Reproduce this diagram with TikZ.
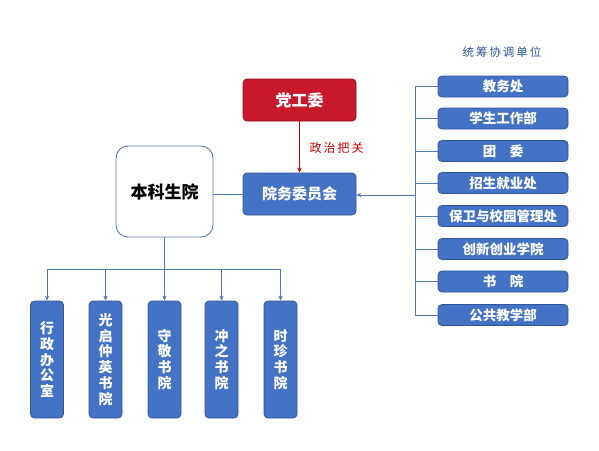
\documentclass[tikz,border=0pt]{standalone}
\usepackage{fontspec}
\newfontfamily\cjk{Noto Sans CJK SC}
\usetikzlibrary{arrows.meta}
\definecolor{bluefill}{HTML}{4472C4}
\definecolor{blueedge}{HTML}{2F5597}
\definecolor{redfill}{HTML}{C8182C}
\definecolor{rededge}{HTML}{8E1020}
\definecolor{linecol}{HTML}{5577BB}
\definecolor{redline}{HTML}{C00000}
\tikzset{
  bluebox/.style={draw=blueedge, line width=0.8pt, fill=bluefill, rounded corners=4pt, text=white, font=\cjk\bfseries\fontsize{13.5}{15}\selectfont, inner sep=0pt, align=center},
  unitbox/.style={bluebox, minimum width=130pt, minimum height=21pt},
  vbox/.style={bluebox, minimum width=33pt, minimum height=117pt, font=\cjk\bfseries\fontsize{14}{15.8}\selectfont},
  conn/.style={draw=linecol, line width=0.9pt},
  arr/.style={conn, -{Stealth[length=5pt,width=4.5pt]}}
}
\begin{document}
\begin{tikzpicture}[x=1pt,y=-1pt]
\useasboundingbox (0,0) rectangle (599,450);
% top
\node[draw=rededge, line width=0.8pt, fill=redfill, rounded corners=4pt, text=white, font=\cjk\bfseries\fontsize{16}{18}\selectfont, minimum width=113pt, minimum height=42pt, inner sep=0pt] (dgw) at (299.5,100) {党工委};
\node[bluebox, font=\cjk\bfseries\fontsize{15}{17}\selectfont, minimum width=113pt, minimum height=42pt] (ywh) at (299.5,194) {院务委员会};
\draw[draw=redline, line width=0.9pt, -{Stealth[length=5pt,width=4.5pt]}] (dgw) -- (ywh);
\node[text=redline, font=\cjk\fontsize{12}{14}\selectfont, anchor=west] (zz) at (306,148) {政\,治\,把\,关};
% undergraduate school
\node[draw=blueedge!80, line width=0.9pt, fill=white, rounded corners=12pt, minimum width=97pt, minimum height=91pt, font=\cjk\bfseries\fontsize{17}{19}\selectfont, inner sep=0pt] (bks) at (164.5,191.5) {本科生院};
\draw[conn] (bks.east |- ywh.west) -- (ywh.west);
% coordination units
\node[text=blueedge, font=\cjk\fontsize{11.5}{13}\selectfont] (title) at (502,52) {统\,筹\,协\,调\,单\,位};
\node[unitbox] (u1) at (503,86.5) {教务处};
\node[unitbox] (u2) at (503,118.5) {学生工作部};
\node[unitbox] (u3) at (503,151) {团\quad 委};
\node[unitbox] (u4) at (503,183) {招生就业处};
\node[unitbox] (u5) at (503,216) {保卫与校园管理处};
\node[unitbox] (u6) at (503,249) {创新创业学院};
\node[unitbox] (u7) at (503,281.5) {书\quad 院};
\node[unitbox] (u8) at (503,315) {公共教学部};
\coordinate (bt) at (415,86.5);
\coordinate (bb) at (415,315);
\draw[conn] (bt) -- (bb);
\foreach \i in {1,...,8} {\draw[conn] (u\i.west) -- (bt |- u\i.west);}
\draw[arr] (415,195) coordinate (bm) -- (ywh.east |- bm);
% bottom units
\node[vbox] (v1) at (47,359.5) {行\\政\\办\\公\\室};
\node[vbox] (v2) at (105.5,359.5) {光\\启\\仲\\英\\书\\院};
\node[vbox] (v3) at (164.5,359.5) {守\\敬\\书\\院};
\node[vbox] (v4) at (221.5,359.5) {冲\\之\\书\\院};
\node[vbox] (v5) at (280.5,359.5) {时\\珍\\书\\院};
\coordinate (hb) at (164.5,269);
\draw[conn] (bks.south) -- (hb);
\draw[conn] (v1.north |- hb) -- (v5.north |- hb);
\foreach \i in {1,...,5} {\draw[arr] (v\i.north |- hb) -- (v\i.north);}
\end{tikzpicture}
\end{document}
